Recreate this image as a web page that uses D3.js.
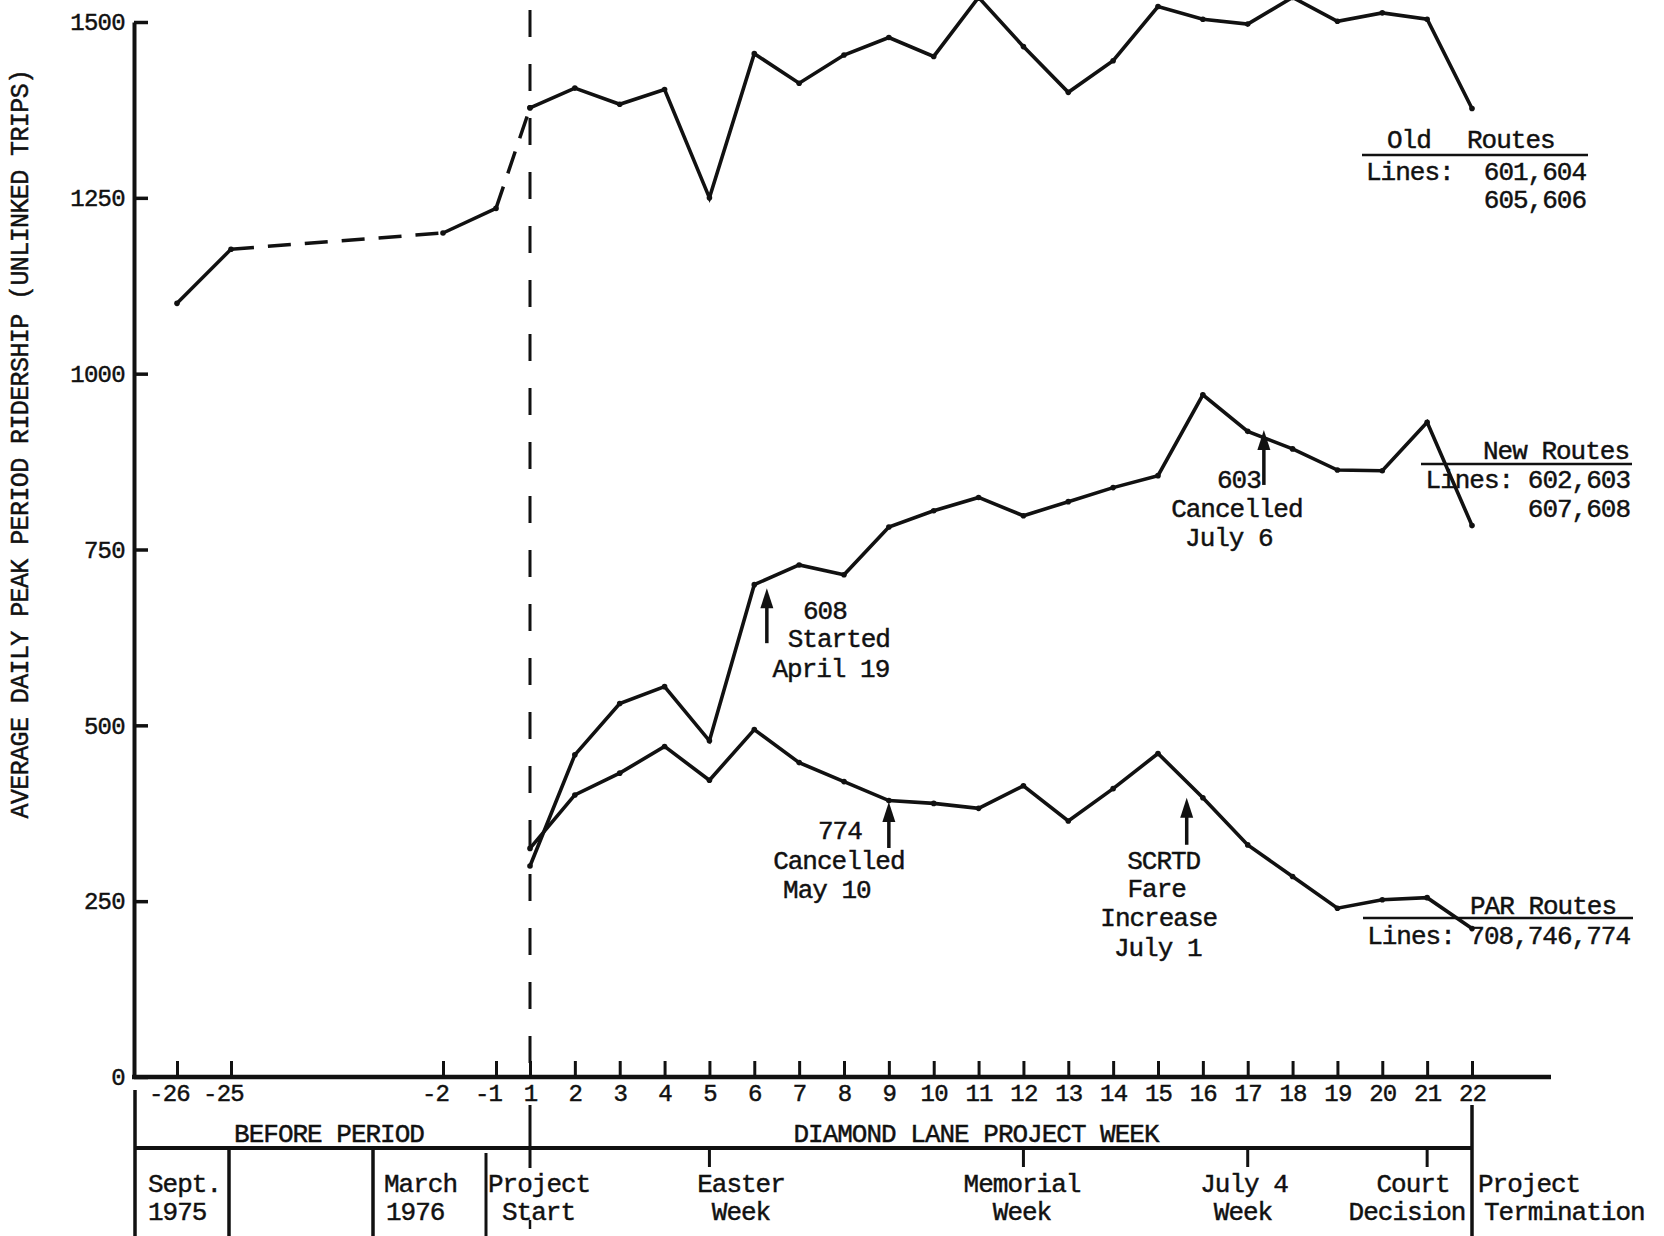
<!DOCTYPE html>
<html><head><meta charset="utf-8">
<script src="https://cdn.jsdelivr.net/npm/d3@7"></script>
<style>
html,body{margin:0;padding:0;background:#fff;}
svg{display:block;background:#fff;}
text{font-family:"Liberation Mono","DejaVu Sans Mono",monospace;fill:#111;stroke:#111;stroke-width:0.45px;}
</style></head><body>
<svg id="chart" width="1664" height="1236"></svg>
<script>
// ---------------- DATA ----------------
const beforeWeeks  = [-26, -25, -2, -1, 1];
const oldBefore    = [1100, 1177, 1200, 1235, 1378];
const beforeDashed = [false, true, false, true];   // style of each segment between consecutive points

const weeks     = [1,2,3,4,5,6,7,8,9,10,11,12,13,14,15,16,17,18,19,20,21,22];
const oldRoutes = [1378,1406,1383,1404,1250,1455,1413,1453,1478,1451,1535,1465,1400,1445,1522,1504,1497,1535,1501,1513,1504,1377];
const newRoutes = [300,458,531,555,478,700,728,714,782,805,824,798,818,838,855,970,918,893,863,862,931,784];
const parRoutes = [325,401,432,470,422,494,447,420,393,389,382,414,364,410,460,397,330,285,240,252,255,211];

const yTicks = [0,250,500,750,1000,1250,1500];
const xTicks = [-26,-25,-2,-1,1,2,3,4,5,6,7,8,9,10,11,12,13,14,15,16,17,18,19,20,21,22];

const yTitle = "AVERAGE DAILY PEAK PERIOD RIDERSHIP (UNLINKED TRIPS)";

const legendOld = ["Old", "Routes", "Lines:", "601,604", "605,606"];
const legendNew = ["New Routes", "Lines: 602,603", "607,608"];
const legendPar = ["PAR Routes", "Lines: 708,746,774"];

// annotation arrows: tip at (week, value)
const annWeeks  = [6.28, 9.0, 17.36, 15.64];
const annValues = [695, 391, 920, 397];
const annTexts  = [["608","Started","April 19"],["774","Cancelled","May 10"],["603","Cancelled","July 6"],["SCRTD","Fare","Increase","July 1"]];

const periodLabels = ["BEFORE PERIOD", "DIAMOND LANE PROJECT WEEK"];
const eventLabels  = [["Sept.","1975"],["March","1976"],["Project","Start"],["Easter","Week"],["Memorial","Week"],["July 4","Week"],["Court","Decision"],["Project","Termination"]];
const eventWeeks   = [null, null, null, 5, 12, 17, 21, null]; // weeks with a short marker tick

// ---------------- LAYOUT ----------------
const INK = "#111";
const axisX = 134, baseY = 1077, topY = 22;
const x = d3.scaleLinear().domain([-26,-25,-2,-1,1,22]).range([177,231,443,496,530,1472]);
const y = d3.scaleLinear().domain([0,1500]).range([baseY, topY]);

const svg = d3.select("#chart");

// y axis
const ya = svg.append("g").attr("transform", `translate(${axisX},0)`)
  .call(d3.axisLeft(y).tickValues(yTicks).tickSizeInner(-14).tickSizeOuter(0).tickPadding(9).tickFormat(d => String(d)));
ya.attr("font-family", null).attr("font-size", null);
ya.select(".domain").attr("stroke", INK).attr("stroke-width", 4);
ya.selectAll(".tick line").attr("stroke", INK).attr("stroke-width", 3.5);
ya.selectAll(".tick text").attr("font-size", 24).attr("letter-spacing", "-0.7px").attr("fill", INK);

// x axis
const xa = svg.append("g").attr("transform", `translate(0,${baseY})`)
  .call(d3.axisBottom(x).tickValues(xTicks).tickSizeInner(-16).tickSizeOuter(0).tickPadding(7).tickFormat(d => String(d)));
xa.attr("font-family", null).attr("font-size", null);
xa.select(".domain").remove();
xa.selectAll(".tick line").attr("stroke", INK).attr("stroke-width", 3);
xa.selectAll(".tick text").attr("font-size", 24).attr("letter-spacing", "-0.8px").attr("fill", INK).attr("dx", d => d < 0 ? -8 : 0);
svg.append("line").attr("x1", axisX - 2).attr("x2", 1551).attr("y1", baseY).attr("y2", baseY)
  .attr("stroke", INK).attr("stroke-width", 4.5);

// project start dashed line
svg.append("line").attr("x1", x(1)).attr("x2", x(1)).attr("y1", 10).attr("y2", baseY)
  .attr("stroke", INK).attr("stroke-width", 3).attr("stroke-dasharray", "27,27");

// y title
svg.append("text").attr("transform", "translate(19,444) rotate(-90)")
  .attr("text-anchor", "middle").attr("dy", "0.35em").attr("font-size", 25).attr("letter-spacing", "-0.6px").text(yTitle);

// series
const line = d3.line().x(d => x(d.w)).y(d => y(d.v));
const mk = (ws, vs) => ws.map((w, i) => ({w, v: vs[i]}));
const plot = svg.append("g");
const before = mk(beforeWeeks, oldBefore);
beforeDashed.forEach((dash, i) => {
  plot.append("path").attr("d", line([before[i], before[i+1]]))
    .attr("fill", "none").attr("stroke", INK).attr("stroke-width", 3.5)
    .attr("stroke-dasharray", dash ? "23,14" : null);
});
[oldRoutes, newRoutes, parRoutes].forEach(vals => {
  const pts = mk(weeks, vals);
  plot.append("path").attr("d", line(pts)).attr("fill", "none").attr("stroke", INK)
    .attr("stroke-width", 3.6).attr("stroke-linejoin", "miter");
  plot.selectAll(null).data(pts).enter().append("circle")
    .attr("cx", d => x(d.w)).attr("cy", d => y(d.v)).attr("r", 2.8).attr("fill", INK);
});
plot.selectAll(null).data(before).enter().append("circle")
  .attr("cx", d => x(d.w)).attr("cy", d => y(d.v)).attr("r", 2.8).attr("fill", INK);

// legends
const T = (txt, px, py, anchor, fs) => svg.append("text").attr("x", px).attr("y", py)
  .attr("dy", "0.35em").attr("text-anchor", anchor || "start").attr("font-size", fs || 26)
  .attr("letter-spacing", "-1px").text(txt);
const rule = (x1, x2, yy) => svg.append("line").attr("x1", x1).attr("x2", x2).attr("y1", yy).attr("y2", yy)
  .attr("stroke", INK).attr("stroke-width", 2.5);

T(legendOld[0], 1387, 139); T(legendOld[1], 1467, 139);
rule(1362, 1588, 155);
T(legendOld[2], 1366, 171); T(legendOld[3], 1586, 171, "end"); T(legendOld[4], 1586, 199, "end");

T(legendNew[0], 1629, 450, "end");
rule(1421, 1632, 464);
T(legendNew[1], 1630, 479, "end"); T(legendNew[2], 1630, 508, "end");

T(legendPar[0], 1616, 905, "end");
rule(1363, 1633, 918);
T(legendPar[1], 1630, 935, "end");

// annotations
const annLen = [55, 46, 55, 47];
const annOffsets = [
  [[58,22],[72,50],[64,80]],
  [[-49,28],[-50,58],[-62,87]],
  [[-25,49],[-27,78],[-35,107]],
  [[-23,62],[-30,90],[-28,119],[-29,149]]
];
annWeeks.forEach((w, i) => {
  const ax = x(w), ay = y(annValues[i]);
  svg.append("line").attr("x1", ax).attr("x2", ax).attr("y1", ay + 14).attr("y2", ay + annLen[i])
    .attr("stroke", INK).attr("stroke-width", 3.5);
  svg.append("path").attr("d", `M${ax},${ay} L${ax-6.5},${ay+20} L${ax+6.5},${ay+20} Z`).attr("fill", INK);
  annTexts[i].forEach((t, j) => T(t, ax + annOffsets[i][j][0], ay + annOffsets[i][j][1], "middle"));
});

// bottom table
const frame = svg.append("g").attr("stroke", INK).attr("stroke-width", 3.5);
const vline = (xx, y1, y2, sw) => frame.append("line").attr("x1", xx).attr("x2", xx).attr("y1", y1).attr("y2", y2)
  .attr("stroke-width", sw || 3.5);
const tableY = 1148;
vline(135, 1090, 1236);
frame.append("line").attr("x1", 135).attr("x2", x(22)).attr("y1", tableY).attr("y2", tableY).attr("stroke-width", 4);
vline(229, tableY, 1236); vline(373, tableY, 1236); vline(486, 1153, 1236, 3);
vline(x(1), 1105, 1168, 3); vline(x(1), 1220, 1229, 2.5);
vline(x(22), 1105, 1236);
eventWeeks.forEach(w => { if (w !== null) vline(x(w), tableY, 1167, 3); });

T(periodLabels[0], 329, 1133, "middle");
T(periodLabels[1], 976, 1133, "middle");

const evPos = [
  [[148,"start"],[148,"start"]],
  [[384,"start"],[386,"start"]],
  [[488,"start"],[502,"start"]],
  [[741,"middle"],[741,"middle"]],
  [[1022,"middle"],[1022,"middle"]],
  [[1244,"middle"],[1243,"middle"]],
  [[1413,"middle"],[1407,"middle"]],
  [[1478,"start"],[1484,"start"]]
];
eventLabels.forEach((lines, i) => {
  T(lines[0], evPos[i][0][0], 1183, evPos[i][0][1]);
  T(lines[1], evPos[i][1][0], 1211, evPos[i][1][1]);
});
</script>
</body></html>
